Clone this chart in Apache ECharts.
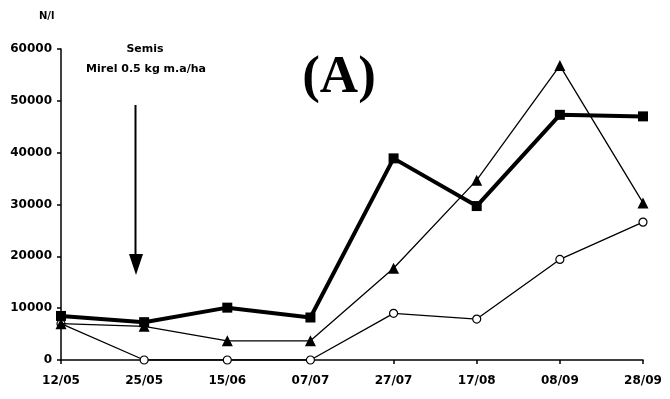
<!DOCTYPE html>
<html>
<head>
<meta charset="utf-8">
<script src="https://cdn.jsdelivr.net/npm/echarts@6/dist/echarts.min.js"></script>
<style>
  html, body { margin: 0; padding: 0; background: #fff; }
  #chart { width: 670px; height: 399px; }
</style>
</head>
<body>
<div id="chart"></div>
<script>
// Sampling dates
const dates = ['12/05', '25/05', '15/06', '07/07', '27/07', '17/08', '08/09', '28/09'];
// Counts (N/l) per sampling date
const squareSeries = [8500, 7300, 10100, 8200, 38900, 29700, 47300, 47000];
const triangleSeries = [7000, 6500, 3700, 3700, 17700, 34700, 56800, 30300];
const circleSeries = [7000, 0, 0, 0, 9000, 7900, 19400, 26600];
// Y axis ticks
const yTicks = [0, 10000, 20000, 30000, 40000, 50000, 60000];

const font = 'DejaVu Sans';
const chart = echarts.init(document.getElementById('chart'), null, { renderer: 'canvas' });

chart.setOption({
  animation: false,
  backgroundColor: '#ffffff',
  grid: { left: 61, right: 27, top: 49, bottom: 39 },
  xAxis: {
    type: 'category',
    data: dates,
    boundaryGap: false,
    axisLine: { lineStyle: { color: '#000', width: 1.5 } },
    axisTick: { show: true, length: 4, lineStyle: { color: '#000', width: 1.5 } },
    axisLabel: { color: '#000', fontFamily: font, fontWeight: 'bold', fontSize: 12, margin: 15 },
    splitLine: { show: false }
  },
  yAxis: {
    type: 'value',
    min: yTicks[0],
    max: yTicks[yTicks.length - 1],
    interval: 10000,
    axisLine: { show: true, lineStyle: { color: '#000', width: 1.5 } },
    axisTick: { show: true, length: 4, lineStyle: { color: '#000', width: 1.5 } },
    axisLabel: {
      color: '#000', fontFamily: font, fontWeight: 'bold', fontSize: 12, margin: 9,
      formatter: v => String(v)
    },
    splitLine: { show: false }
  },
  series: [
    {
      name: 'circle',
      type: 'line',
      data: circleSeries,
      symbol: 'circle',
      symbolSize: 8,
      lineStyle: { color: '#000', width: 1.3 },
      itemStyle: { color: '#fff', borderColor: '#000', borderWidth: 1.2 },
      z: 2
    },
    {
      name: 'triangle',
      type: 'line',
      data: triangleSeries,
      symbol: 'triangle',
      symbolSize: 11,
      lineStyle: { color: '#000', width: 1.3 },
      itemStyle: { color: '#000' },
      z: 3
    },
    {
      name: 'square',
      type: 'line',
      data: squareSeries,
      symbol: 'rect',
      symbolSize: 10,
      lineStyle: { color: '#000', width: 4 },
      itemStyle: { color: '#000' },
      z: 4
    }
  ],
  graphic: [
    { type: 'text', left: 39, top: 11, style: { text: 'N/l', font: 'bold 10px ' + font, fill: '#000' } },
    { type: 'text', x: 145, y: 44, style: { text: 'Semis', font: 'bold 11px ' + font, fill: '#000', align: 'center' } },
    { type: 'text', x: 146, y: 64, style: { text: 'Mirel 0.5 kg m.a/ha', font: 'bold 11px ' + font, fill: '#000', align: 'center' } },
    { type: 'text', x: 339, y: 78, style: { text: '(A)', font: 'bold 53px "Liberation Serif"', fill: '#000', align: 'center', verticalAlign: 'middle' } },
    { type: 'line', shape: { x1: 135.5, y1: 105, x2: 135.5, y2: 256 }, style: { stroke: '#000', lineWidth: 2 } },
    { type: 'polygon', shape: { points: [[129, 254], [143, 254], [136, 275]] }, style: { fill: '#000' } }
  ]
});
</script>
</body>
</html>
